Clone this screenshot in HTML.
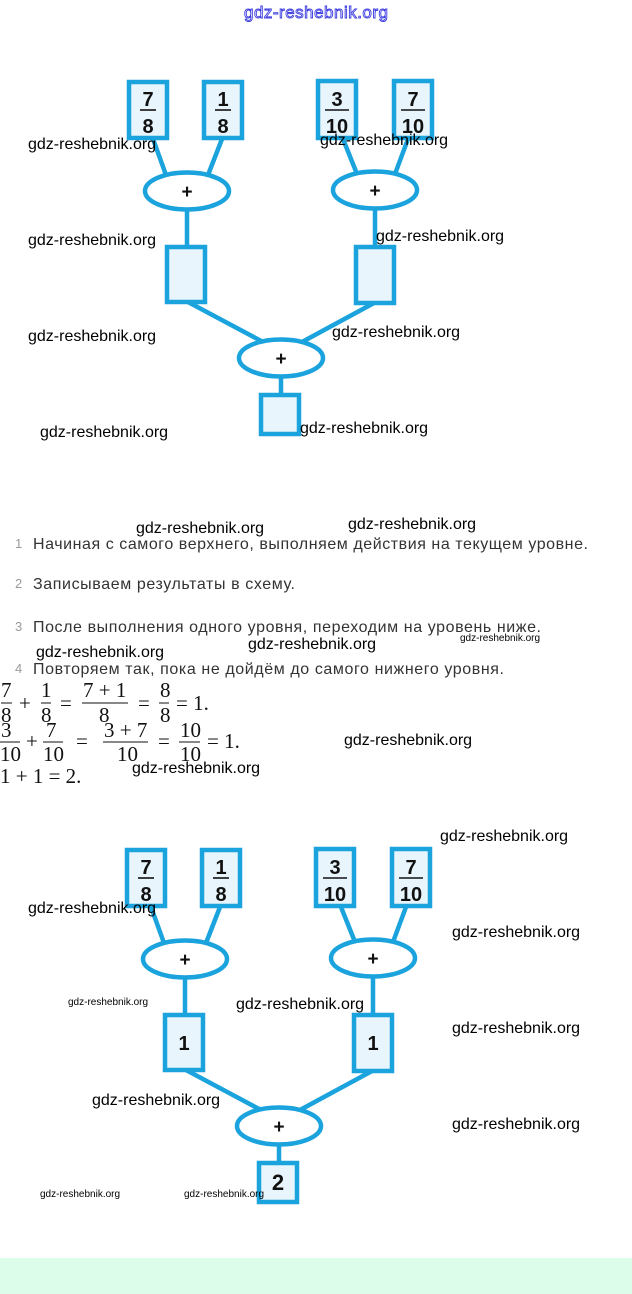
<!DOCTYPE html>
<html><head><meta charset="utf-8"><style>
html,body{margin:0;padding:0;background:#fff;}
svg{display:block;}
.wm{font-family:"Liberation Sans",sans-serif;font-size:16px;fill:#000;}
.wms{font-family:"Liberation Sans",sans-serif;font-size:10px;fill:#000;}
.li{font-family:"Liberation Sans","Noto Sans CJK SC",sans-serif;font-size:16px;fill:#333;}
.nu{font-family:"Liberation Sans",sans-serif;font-size:13px;fill:#9a9a9a;}
.m{font-family:"Liberation Serif",serif;font-size:21px;fill:#111;}
.d{font-family:"Liberation Sans",sans-serif;font-size:20px;font-weight:bold;fill:#111;text-anchor:middle;}
.pl{font-family:"Liberation Sans",sans-serif;font-size:19px;font-weight:bold;fill:#111;text-anchor:middle;}
</style></head><body>
<svg width="632" height="1294" viewBox="0 0 632 1294" xmlns="http://www.w3.org/2000/svg">
<defs>
<g id="diag">
  <g stroke="#1ba3dd" stroke-width="4.5" fill="none">
    <line x1="153" y1="139" x2="166" y2="175"/>
    <line x1="222" y1="139" x2="208" y2="175"/>
    <line x1="343" y1="139" x2="357" y2="174"/>
    <line x1="408" y1="139" x2="395" y2="174"/>
    <line x1="187" y1="210" x2="187" y2="247"/>
    <line x1="375" y1="209" x2="375" y2="247"/>
    <line x1="188" y1="302" x2="263" y2="342"/>
    <line x1="374" y1="303" x2="302" y2="342"/>
    <line x1="281" y1="377" x2="281" y2="395"/>
  </g>
  <g stroke="#1ba3dd" stroke-width="4.5" fill="#e8f5fc">
    <rect x="129" y="82" width="38" height="56"/>
    <rect x="204" y="82" width="38" height="56"/>
    <rect x="318" y="81" width="38" height="57"/>
    <rect x="394" y="81" width="38" height="57"/>
    <rect x="167" y="247" width="38" height="55"/>
    <rect x="356" y="247" width="38" height="56"/>
    <rect x="261" y="395" width="38" height="39"/>
  </g>
  <g stroke="#1ba3dd" stroke-width="4.5" fill="#fff">
    <ellipse cx="187" cy="191" rx="42" ry="18.5"/>
    <ellipse cx="375" cy="190" rx="42" ry="18.5"/>
    <ellipse cx="281" cy="358" rx="42" ry="18.5"/>
  </g>
  <text class="pl" x="187" y="198">+</text>
  <text class="pl" x="375" y="197">+</text>
  <text class="pl" x="281" y="365">+</text>
  <g stroke="#111" stroke-width="1.6">
    <line x1="140" y1="110" x2="156" y2="110"/>
    <line x1="215" y1="110" x2="231" y2="110"/>
    <line x1="325" y1="110" x2="349" y2="110"/>
    <line x1="401" y1="110" x2="425" y2="110"/>
  </g>
  <text class="d" x="148" y="106">7</text><text class="d" x="148" y="133">8</text>
  <text class="d" x="223" y="106">1</text><text class="d" x="223" y="133">8</text>
  <text class="d" x="337" y="106">3</text><text class="d" x="337" y="133">10</text>
  <text class="d" x="413" y="106">7</text><text class="d" x="413" y="133">10</text>
</g>
</defs>

<text x="244" y="18" font-family="Liberation Sans,sans-serif" font-size="17" fill="#fff" stroke="#3a3ae0" stroke-width="0.9" textLength="144">gdz-reshebnik.org</text>

<use href="#diag"/>
<g transform="translate(-2,768)">
  <use href="#diag"/>
  <text class="d" x="186" y="282">1</text>
  <text class="d" x="375" y="282">1</text>
  <text class="d" x="280" y="422" style="font-size:22px">2</text>
</g>

<text class="nu" x="15" y="548">1</text>
<text class="li" x="33" y="549" textLength="555">Начиная с самого верхнего, выполняем действия на текущем уровне.</text>
<text class="nu" x="15" y="588">2</text>
<text class="li" x="33" y="589" textLength="262">Записываем результаты в схему.</text>
<text class="nu" x="15" y="631">3</text>
<text class="li" x="33" y="632" textLength="508">После выполнения одного уровня, переходим на уровень ниже.</text>
<text class="nu" x="15" y="673">4</text>
<text class="li" x="33" y="674" textLength="471">Повторяем так, пока не дойдём до самого нижнего уровня.</text>

<g class="m">
  <text x="1" y="697">7</text><text x="1" y="722">8</text>
  <text x="19" y="710">+</text>
  <text x="41" y="697">1</text><text x="41" y="722">8</text>
  <text x="60" y="710">=</text>
  <text x="83" y="697">7 + 1</text><text x="99" y="722">8</text>
  <text x="138" y="710">=</text>
  <text x="160" y="697">8</text><text x="160" y="722">8</text>
  <text x="176" y="710">= 1.</text>

  <text x="1" y="737">3</text><text x="0" y="761">10</text>
  <text x="26" y="748">+</text>
  <text x="46" y="737">7</text><text x="43" y="761">10</text>
  <text x="76" y="748">=</text>
  <text x="104" y="737">3 + 7</text><text x="117" y="761">10</text>
  <text x="158" y="748">=</text>
  <text x="180" y="737">10</text><text x="180" y="761">10</text>
  <text x="207" y="748">= 1.</text>

  <text x="0" y="783">1 + 1 = 2.</text>
</g>
<g stroke="#111" stroke-width="1">
  <line x1="1" y1="703" x2="12" y2="703"/>
  <line x1="41" y1="703" x2="51" y2="703"/>
  <line x1="82" y1="703" x2="128" y2="703"/>
  <line x1="159" y1="703" x2="169" y2="703"/>
  <line x1="0" y1="742" x2="20" y2="742"/>
  <line x1="43" y1="742" x2="63" y2="742"/>
  <line x1="103" y1="742" x2="148" y2="742"/>
  <line x1="179" y1="742" x2="200" y2="742"/>
</g>

<g class="wm">
  <text x="28" y="149">gdz-reshebnik.org</text>
  <text x="320" y="145">gdz-reshebnik.org</text>
  <text x="28" y="245">gdz-reshebnik.org</text>
  <text x="376" y="241">gdz-reshebnik.org</text>
  <text x="28" y="341">gdz-reshebnik.org</text>
  <text x="332" y="337">gdz-reshebnik.org</text>
  <text x="40" y="437">gdz-reshebnik.org</text>
  <text x="300" y="433">gdz-reshebnik.org</text>
  <text x="136" y="533">gdz-reshebnik.org</text>
  <text x="348" y="529">gdz-reshebnik.org</text>
  <text x="36" y="657">gdz-reshebnik.org</text>
  <text x="248" y="649">gdz-reshebnik.org</text>
  <text x="344" y="745">gdz-reshebnik.org</text>
  <text x="132" y="773">gdz-reshebnik.org</text>
  <text x="440" y="841">gdz-reshebnik.org</text>
  <text x="28" y="913">gdz-reshebnik.org</text>
  <text x="452" y="937">gdz-reshebnik.org</text>
  <text x="236" y="1009">gdz-reshebnik.org</text>
  <text x="452" y="1033">gdz-reshebnik.org</text>
  <text x="92" y="1105">gdz-reshebnik.org</text>
  <text x="452" y="1129">gdz-reshebnik.org</text>
</g>
<g class="wms">
  <text x="460" y="641">gdz-reshebnik.org</text>
  <text x="68" y="1005">gdz-reshebnik.org</text>
  <text x="40" y="1197">gdz-reshebnik.org</text>
  <text x="184" y="1197">gdz-reshebnik.org</text>
</g>

<rect x="0" y="1258" width="632" height="36" fill="#dcfde9"/>
</svg>
</body></html>
